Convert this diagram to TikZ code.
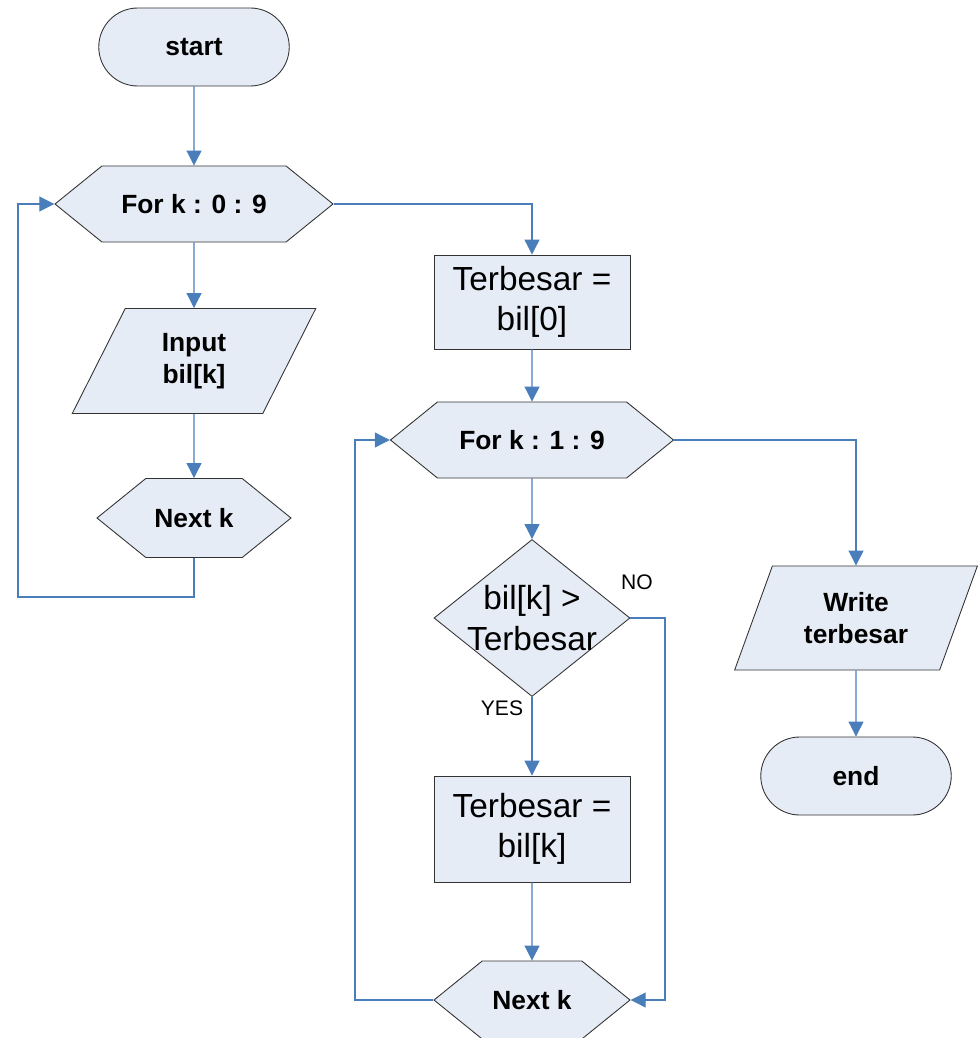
\documentclass[tikz,border=0pt]{standalone}
\usepackage{fontspec}
\setmainfont{Liberation Sans}
\usetikzlibrary{shapes.geometric,shapes.symbols,shapes.misc,arrows.meta}

\definecolor{boxfill}{HTML}{E6ECF6}
\definecolor{flowblue}{HTML}{4A7EBB}

\tikzset{
  base/.style={draw=black!80, fill=boxfill, line width=0.5pt, align=center, inner sep=1pt},
  term/.style={base, rounded rectangle, minimum width=3.88cm, minimum height=1.56cm, font=\fontsize{15}{18}\selectfont\bfseries},
  loopbox/.style={base, signal, signal to=west and east, signal pointer angle=78, minimum height=1.52cm, font=\fontsize{15}{18}\selectfont\bfseries},
  iobox/.style={base, trapezium, trapezium left angle=66, trapezium right angle=114, trapezium stretches=true, minimum height=2.1cm, font=\fontsize{15}{18}\selectfont\bfseries},
  procbox/.style={base, rectangle, minimum width=3.92cm, font=\fontsize{19}{23}\selectfont},
  decbox/.style={base, diamond, minimum width=3.92cm, minimum height=3.14cm, inner sep=0pt},
  dectext/.style={font=\fontsize{19}{23}\selectfont, align=center},
  flow/.style={draw=flowblue, line width=0.6pt, -{Triangle[length=8.5pt,width=8.5pt]}},
  tag/.style={font=\fontsize{12}{14}\selectfont}
}

\begin{document}
\begin{tikzpicture}
  \useasboundingbox (0,0) rectangle (19.58,-20.76);

  % first loop
  \node[term] (start) at (3.88,-0.94) {start};
  \node[loopbox, minimum width=5.56cm] (for1) at (3.88,-4.08) {For k : 0 : 9};
  \node[iobox, minimum width=4.88cm] (input) at (3.88,-7.22) {Input\\bil[k]};
  \node[loopbox, minimum width=3.88cm, minimum height=1.58cm] (next1) at (3.88,-10.36) {Next k};
  \coordinate (loopa) at (0.36,-11.94);

  % search for the largest
  \node[procbox, minimum height=1.88cm] (init) at (10.64,-6.04) {Terbesar =\\bil[0]};
  \node[loopbox, minimum width=5.66cm] (for2) at (10.64,-8.8) {For k : 1 : 9};
  \node[decbox, label={[dectext]center:{bil[k] >\\Terbesar}}] (cond) at (10.64,-12.36) {};
  \node[procbox, minimum height=2.12cm] (upd) at (10.64,-16.58) {Terbesar =\\bil[k]};
  \node[loopbox, minimum width=3.92cm, minimum height=1.56cm] (next2) at (10.64,-20.0) {Next k};
  \coordinate (loopb) at (7.1,-20.0);
  \coordinate (nob) at (13.3,-12.36);

  % output
  \node[iobox, minimum width=4.88cm, minimum height=2.08cm] (write) at (17.12,-12.36) {Write\\terbesar};
  \node[term] (end) at (17.12,-15.52) {end};

  \node[tag] (no) at (12.74,-11.64) {NO};
  \node[tag] (yes) at (10.04,-14.16) {YES};

  \draw[flow] (start) -- (for1);
  \draw[flow] (for1) -- (input);
  \draw[flow] (input) -- (next1);
  \draw[flow] (next1.south) |- (loopa) |- (for1.west);
  \draw[flow] (for1.east) -| (init.north);
  \draw[flow] (init) -- (for2);
  \draw[flow] (for2) -- (cond);
  \draw[flow] (cond) -- (upd);
  \draw[flow] (upd) -- (next2);
  \draw[flow] (cond.east) -- (nob) |- (next2.east);
  \draw[flow] (next2.west) -- (loopb) |- (for2.west);
  \draw[flow] (for2.east) -| (write.north);
  \draw[flow] (write) -- (end);
\end{tikzpicture}
\end{document}
